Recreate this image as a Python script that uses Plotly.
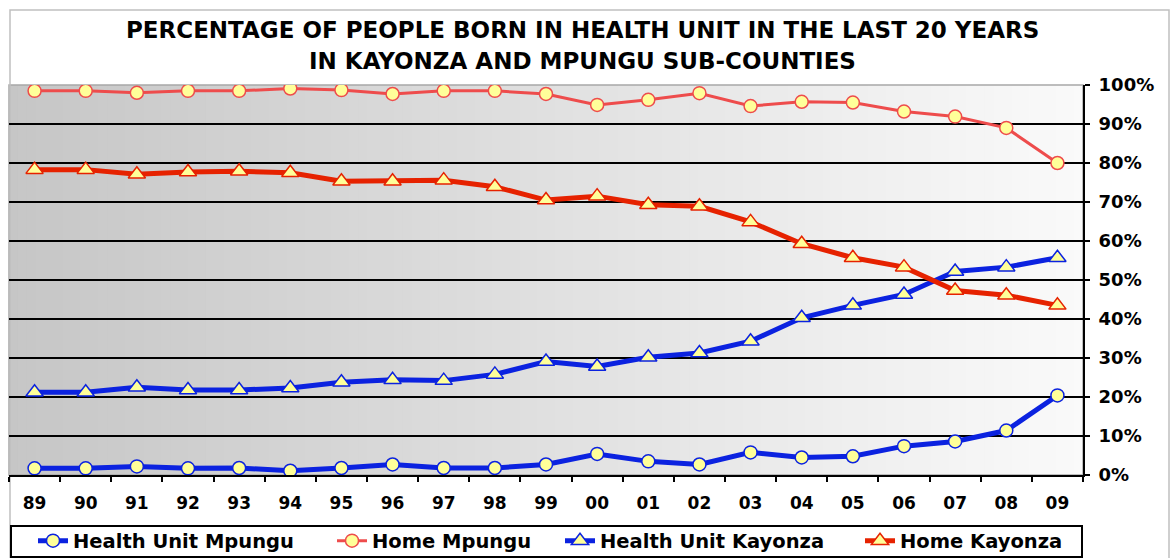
import plotly.graph_objects as go

years = ["89", "90", "91", "92", "93", "94", "95", "96", "97", "98", "99",
         "00", "01", "02", "03", "04", "05", "06", "07", "08", "09"]

health_unit_mpungu = [1.7, 1.7, 2.2, 1.7, 1.8, 1.1, 1.8, 2.7, 1.8, 1.8, 2.7,
                      5.4, 3.5, 2.7, 5.8, 4.5, 4.8, 7.4, 8.6, 11.4, 20.4]
home_mpungu = [98.5, 98.5, 98.0, 98.5, 98.5, 99.1, 98.7, 97.7, 98.5, 98.5, 97.7,
               94.9, 96.2, 97.9, 94.6, 95.7, 95.5, 93.2, 91.9, 89.0, 80.0]
health_unit_kayonza = [21.2, 21.2, 22.5, 21.8, 21.8, 22.3, 23.8, 24.4, 24.2, 25.8, 29.1,
                       27.8, 30.2, 31.3, 34.3, 40.3, 43.5, 46.3, 52.2, 53.3, 55.7]
home_kayonza = [78.3, 78.3, 77.1, 77.7, 77.9, 77.5, 75.3, 75.3, 75.6, 73.9, 70.5,
                71.5, 69.3, 68.9, 64.9, 59.3, 55.7, 53.3, 47.3, 46.1, 43.5]

W, H = 1171, 558
L, R, T, B = 9, 1083, 85, 475
FONT = "DejaVu Sans"


def px(xp):
    return (xp - L) / (R - L)


def py(yp):
    return (B - yp) / (B - T)


fig = go.Figure()

series = [
    ("Health Unit Mpungu", health_unit_mpungu, "#0b22e0", 5, "circle", 13, "legend", 33),
    ("Home Mpungu", home_mpungu, "#ee4c4c", 3, "circle", 13, "legend2", 332),
    ("Health Unit Kayonza", health_unit_kayonza, "#0b22e0", 5, "triangle-up", 15, "legend3", 560),
    ("Home Kayonza", home_kayonza, "#e62200", 5, "triangle-up", 15, "legend4", 860),
]
legends = {}
for name, vals, col, lw, sym, ms, lg, lx in series:
    fig.add_trace(go.Scatter(
        x=years, y=vals, name=name, mode="lines+markers",
        line=dict(color=col, width=lw),
        marker=dict(symbol=sym, size=ms, color="#ffff99",
                    line=dict(color=col, width=1.5)),
        legend=lg,
    ))
    legends[lg] = dict(orientation="h", x=px(lx), y=py(541), xanchor="left",
                       yanchor="middle", bgcolor="rgba(0,0,0,0)", borderwidth=0,
                       font=dict(family=FONT, size=19.5, color="#000000", weight="bold"),
                       itemwidth=30)

shapes = []
# gradient background of plot area
N = 120
for i in range(N):
    t = (i + 0.5) / N
    v = int(round(198 + (250 - 198) * t))
    shapes.append(dict(type="rect", xref="x domain", yref="y domain",
                       x0=i / N, x1=(i + 1) / N + 0.002, y0=0, y1=1,
                       fillcolor=f"rgb({v},{v},{v})", line=dict(width=0),
                       layer="below"))
# plot area border (top/left gray)
shapes.append(dict(type="rect", xref="x domain", yref="y domain",
                   x0=0, x1=1, y0=0, y1=1, line=dict(color="#a8a8a8", width=1.5),
                   layer="below"))
# outer chart border
shapes.append(dict(type="rect", xref="paper", yref="paper",
                   x0=px(10), x1=px(1169), y0=py(10), y1=py(600),
                   line=dict(color="#c0c0c0", width=1.5), layer="below"))
# legend box
shapes.append(dict(type="rect", xref="paper", yref="paper",
                   x0=px(11), x1=px(1082), y0=py(526), y1=py(557),
                   line=dict(color="#000000", width=2), fillcolor="white",
                   layer="below"))

annotations = [
    dict(text="PERCENTAGE OF PEOPLE BORN IN HEALTH UNIT IN THE LAST 20 YEARS",
         xref="paper", yref="paper", x=px(582), y=py(30), xanchor="center",
         yanchor="middle", showarrow=False,
         font=dict(family=FONT, size=23, color="#000000", weight="bold")),
    dict(text="IN KAYONZA AND MPUNGU SUB-COUNTIES",
         xref="paper", yref="paper", x=px(582), y=py(61), xanchor="center",
         yanchor="middle", showarrow=False,
         font=dict(family=FONT, size=23, color="#000000", weight="bold")),
]

fig.update_layout(
    width=W, height=H, autosize=False,
    margin=dict(l=L, r=W - R, t=T, b=H - B, autoexpand=False),
    paper_bgcolor="white", plot_bgcolor="rgba(0,0,0,0)",
    shapes=shapes, annotations=annotations,
    showlegend=True,
    xaxis=dict(type="category", range=[-0.5, 20.5], showgrid=False,
               showline=True, linecolor="#000000", linewidth=2,
               ticks="outside", tickson="boundaries", ticklen=5, tickcolor="#000000",
               tickwidth=1.5,
               tickfont=dict(family=FONT, size=17, color="#000000", weight="bold"),
               ticklabelstandoff=12, zeroline=False, automargin=False),
    yaxis=dict(side="right", range=[0, 100], dtick=10, ticksuffix="%",
               showgrid=True, gridcolor="#000000", gridwidth=2,
               showline=True, linecolor="#000000", linewidth=2,
               ticks="outside", ticklen=5, tickcolor="#000000", tickwidth=1.5,
               tickfont=dict(family=FONT, size=18, color="#000000", weight="bold"),
               ticklabelstandoff=5, zeroline=False, automargin=False),
    **legends,
)

fig.write_html("out.html", config={"displayModeBar": False},
               post_script="document.body.style.margin='0';document.body.style.overflow='hidden';")
